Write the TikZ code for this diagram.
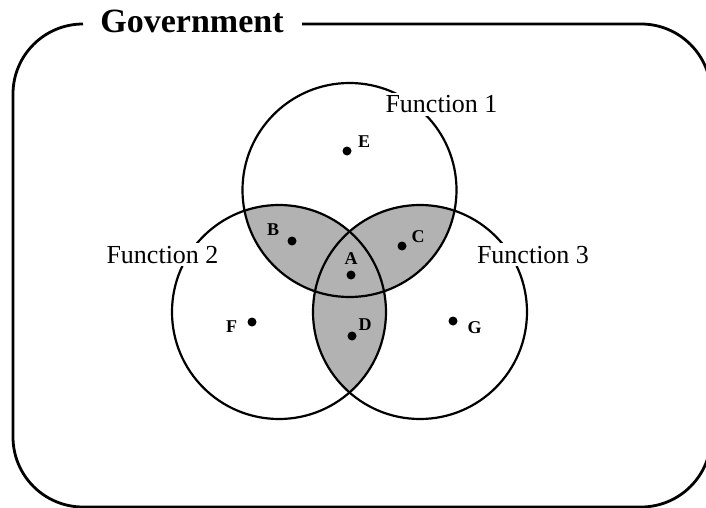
\documentclass[tikz,border=0pt]{standalone}
\usepackage{fontspec}
\setmainfont{Liberation Serif}
\begin{document}
\begin{tikzpicture}[x=1pt,y=-1pt,
  frame/.style={line width=2.8pt},
  ring/.style={line width=2.2pt},
  overlap/.style={fill=black!30},
  dot/.style={circle,fill=black,inner sep=0pt,minimum size=9pt},
  fnlabel/.style={font=\fontsize{26}{30}\selectfont,fill=white,inner xsep=1pt,inner ysep=3pt,anchor=base},
  ptlabel/.style={font=\fontsize{18}{20}\selectfont\bfseries,inner sep=0pt},
  titlelabel/.style={font=\fontsize{34}{38}\selectfont\bfseries,inner sep=0pt,anchor=base}]
\useasboundingbox (0,0) rectangle (706,508);

% circle centres and radius
\def\rr{107}
\coordinate (c1) at (349.5,190);
\coordinate (c2) at (279,312);
\coordinate (c3) at (420,312);

% shaded pairwise overlaps
\begin{scope}
  \clip (c1) circle[radius=\rr];
  \fill[overlap] (c2) circle[radius=\rr];
  \fill[overlap] (c3) circle[radius=\rr];
\end{scope}
\begin{scope}
  \clip (c2) circle[radius=\rr];
  \fill[overlap] (c3) circle[radius=\rr];
\end{scope}

% the three function circles
\draw[ring] (c1) circle[radius=\rr];
\draw[ring] (c2) circle[radius=\rr];
\draw[ring] (c3) circle[radius=\rr];

% outer frame with a gap for the title
\draw[frame,rounded corners=70pt]
  (302,24) -- (711,24) -- (711,507) -- (13,507) -- (13,24) -- (83,24);
\node[titlelabel] (gov) at (192,33) {Government};

% function labels, set on white over the circle outlines
\node[fnlabel] (f1) at (441.5,113) {Function 1};
\node[fnlabel] (f2) at (162.5,263) {Function 2};
\node[fnlabel] (f3) at (533,263) {Function 3};

% points and their letters
\node[dot] (pE) at (347,151) {};
\node[dot] (pF) at (252,322) {};
\node[dot] (pG) at (453,321) {};
\node[dot] (pB) at (292,241) {};
\node[dot] (pC) at (402,246) {};
\node[dot] (pA) at (351,275) {};
\node[dot] (pD) at (352,336) {};

\node[ptlabel] (lE) at (364,141.5) {E};
\node[ptlabel] (lF) at (231.5,326.5) {F};
\node[ptlabel] (lG) at (474.5,328) {G};
\node[ptlabel] (lB) at (273,230) {B};
\node[ptlabel] (lC) at (418,237) {C};
\node[ptlabel] (lA) at (351,259) {A};
\node[ptlabel] (lD) at (365,325) {D};
\end{tikzpicture}
\end{document}
